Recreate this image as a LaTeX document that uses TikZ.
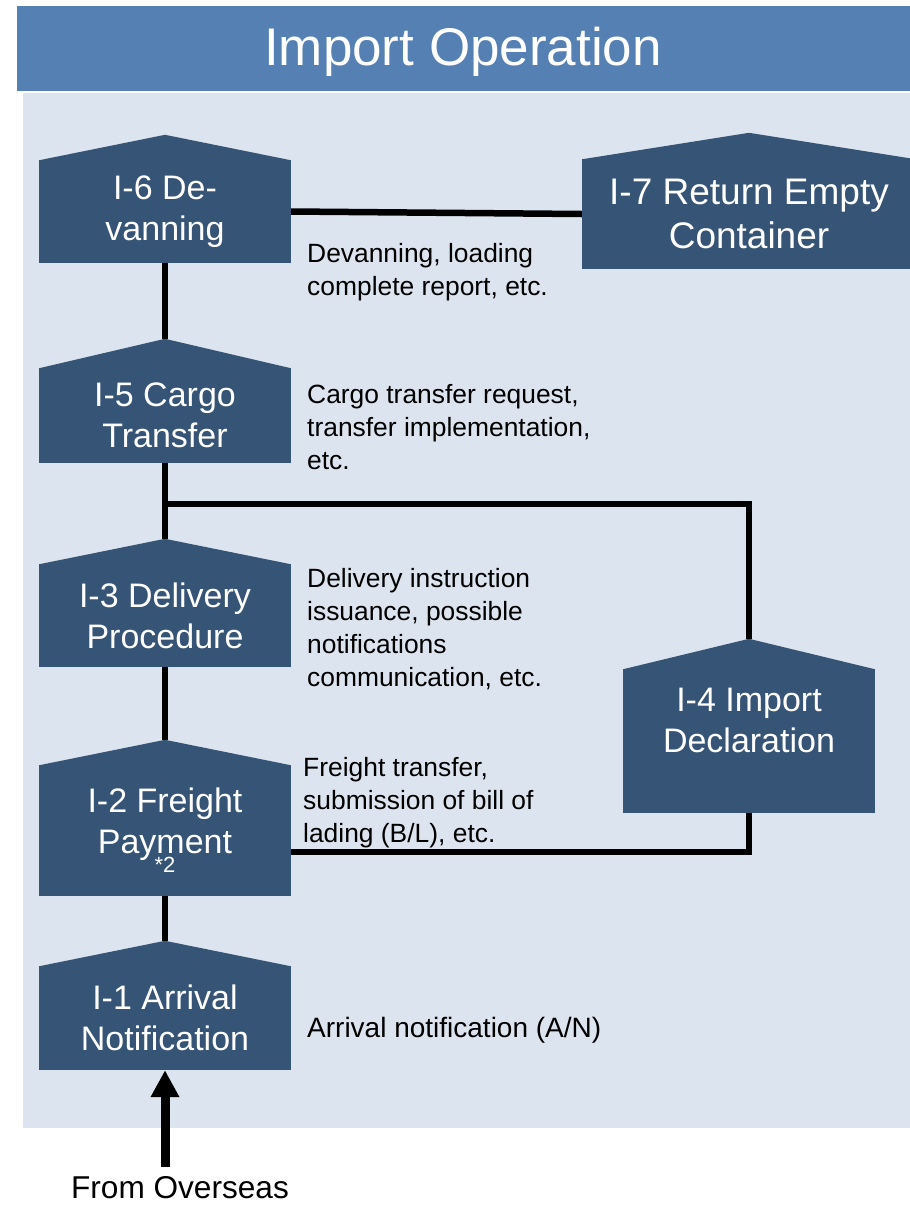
\documentclass[tikz,border=0pt]{standalone}
\usepackage{fontspec}
\setmainfont{Liberation Sans}
\usepackage{tikz}
\usetikzlibrary{arrows.meta, calc}
\definecolor{titleblue}{RGB}{85,128,179}
\definecolor{panelblue}{RGB}{220,228,239}
\definecolor{stepblue}{RGB}{54,84,117}

\tikzset{
    stepbox/.style={fill=stepblue, text=white, align=center, minimum width=252pt, inner sep=0pt, font=\fontsize{34}{41}\selectfont},
    link/.style={line width=6.5pt, black},
    desc/.style={anchor=west, align=left, inner sep=0pt, font=\fontsize{26.4}{33}\selectfont}
}

\begin{document}
\begin{tikzpicture}[x=1pt, y=-1pt]
    \useasboundingbox (0,0) rectangle (910,1208);

    % Title
    \fill[titleblue] (17,6) rectangle (910,91);
    \node[text=white, font=\fontsize{53}{60}\selectfont] (title) at (463,52) {Import Operation};

    % Panel
    \fill[panelblue] (23,93) rectangle (910,1128);

    % Steps
    \node[stepbox, minimum height=103pt] (I6) at (165,211.5) {I-6 De-\\vanning};
    \node[stepbox, minimum width=334pt, minimum height=110pt, font=\fontsize{37}{44}\selectfont] (I7) at (749,214) {I-7 Return Empty\\Container};
    \node[stepbox, minimum height=95pt] (I5) at (165,415.5) {I-5 Cargo\\Transfer};
    \node[stepbox, minimum height=103pt] (I3) at (165,615.5) {I-3 Delivery\\Procedure};
    \node[stepbox, minimum height=144pt] (I4) at (749,741) {I-4 Import\\Declaration\\\mbox{}};
    \node[stepbox, minimum height=131pt] (I2) at (165,830.5) {I-2 Freight\\Payment\\[-22pt]{\fontsize{22}{22}\selectfont *2}};
    \node[stepbox, minimum height=104pt] (I1) at (165,1018) {I-1 Arrival\\Notification};

    % Roofs
    \foreach \n/\r in {I1/25,I2/25,I3/25,I4/30,I5/29,I6/25,I7/26} {
        \fill[stepblue] ([yshift=-0.5pt]\n.north west) -- ([yshift=\r pt]\n.north) coordinate (\n-top) -- ([yshift=-0.5pt]\n.north east) -- cycle;
    }

    % Links
    \draw[link] (I6.east) -- (I7.west);
    \draw[link] (I6.south) -- (I5-top);
    \draw[link] (I5.south) -- (I3-top);
    \coordinate (split) at (165,504);
    \draw[link] (split) -| (I4-top);
    \draw[link] (I3.south) -- (I2-top);
    \coordinate (join) at ($(I2.east)+(0,21.5)$);
    \draw[link] (join) -| (I4.south);
    \draw[link] (I2.south) -- (I1-top);

    % Notes
    \node[desc] (d6) at (307,272) {Devanning, loading\\complete report, etc.};
    \node[desc] (d5) at (307,427.5) {Cargo transfer request,\\transfer implementation,\\etc.};
    \node[desc] (d3) at (307,629) {Delivery instruction\\issuance, possible\\notifications\\communication, etc.};
    \node[desc] (d2) at (303,803) {Freight transfer,\\submission of bill of\\lading (B/L), etc.};
    \node[desc, font=\fontsize{28}{34}\selectfont] (d1) at (307,1030) {Arrival notification (A/N)};

    % From overseas
    \coordinate (origin) at (165,1167);
    \draw[line width=9pt, -{Triangle[width=27pt,length=27pt]}] (origin) -- (I1.south);
    \node[font=\fontsize{31.6}{38}\selectfont] (from) at (180,1188) {From Overseas};
\end{tikzpicture}
\end{document}
